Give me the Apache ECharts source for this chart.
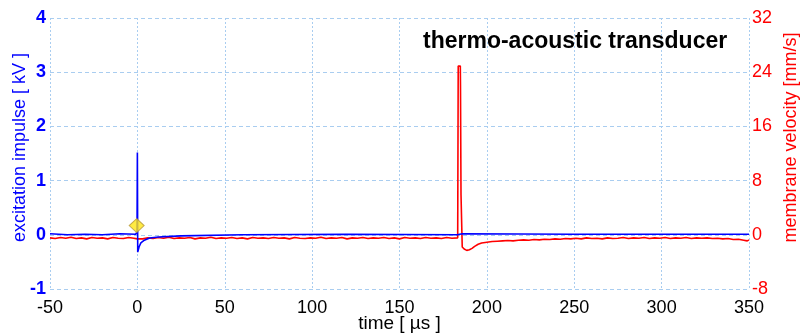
<!DOCTYPE html>
<html>
<head>
<meta charset="utf-8">
<script src="https://cdn.jsdelivr.net/npm/echarts@6/dist/echarts.min.js"></script>
<style>
  html, body { margin: 0; padding: 0; background: #fff; }
  #chart { width: 801px; height: 336px; }
</style>
</head>
<body>
<div id="chart"></div>
<script>
// time [µs] / excitation impulse [kV]
const impulsePoints = [
  [-50, 0.02], [-40, 0.0], [-30, 0.01], [-20, 0.0], [-10, 0.02], [-1, 0.01],
  [-0.2, 0.05], [0, 1.52], [0.2, -0.32], [1, -0.22], [2, -0.15], [4, -0.1],
  [7, -0.06], [12, -0.04], [25, -0.02], [60, 0.0], [120, 0.01], [183, 0.0],
  [186, 0.02], [250, 0.01], [300, 0.01], [350, 0.01]
];
// time [µs] / membrane velocity [mm/s]
const velocityPoints = [
  [-50, -0.45], [-47, -0.55], [-44, -0.4], [-41, -0.5], [-38, -0.35], [-35, -0.55],
  [-32, -0.45], [-29, -0.6], [-26, -0.4], [-23, -0.5], [-20, -0.45], [-17, -0.6],
  [-14, -0.4], [-11, -0.5], [-8, -0.55], [-5, -0.4], [-2, -0.5], [0, -0.6],
  [1, -0.8], [3, -0.6], [6, -0.45], [9, -0.55], [12, -0.4], [15, -0.5],
  [18, -0.35], [21, -0.55], [24, -0.45], [27, -0.5], [30, -0.4], [33, -0.6],
  [36, -0.45], [39, -0.5], [42, -0.35], [45, -0.55], [48, -0.45], [51, -0.5],
  [54, -0.4], [57, -0.55], [60, -0.45], [63, -0.6], [66, -0.4], [69, -0.5],
  [72, -0.45], [75, -0.55], [78, -0.4], [81, -0.5], [84, -0.45], [87, -0.6],
  [90, -0.4], [93, -0.5], [96, -0.55], [99, -0.45], [102, -0.5], [105, -0.35],
  [108, -0.55], [111, -0.45], [114, -0.5], [117, -0.4], [120, -0.6], [123, -0.45],
  [126, -0.5], [129, -0.4], [132, -0.55], [135, -0.45], [138, -0.5], [141, -0.4],
  [144, -0.55], [147, -0.45], [150, -0.6], [153, -0.4], [156, -0.5], [159, -0.45],
  [162, -0.55], [165, -0.4], [168, -0.5], [171, -0.45], [174, -0.55], [177, -0.4],
  [180, -0.5], [183.3, -0.45], [183.6, 24.9], [184.8, 24.9], [184.9, 22.1],
  [185.1, 22.0], [185.2, 5.9], [185.8, 5.9], [185.9, -1.8], [187, -2.1],
  [188.5, -2.3], [190, -2.2], [191.5, -2.0], [193, -1.7], [195, -1.4], [197, -1.2],
  [200, -1.1], [203, -1.0], [206, -0.95], [209, -0.9], [212, -0.85], [215, -0.9],
  [218, -0.8], [221, -0.75], [224, -0.8], [227, -0.7], [230, -0.75], [233, -0.65],
  [236, -0.7], [239, -0.6], [242, -0.65], [245, -0.55], [248, -0.6], [251, -0.5],
  [254, -0.6], [257, -0.45], [260, -0.55], [263, -0.5], [266, -0.6], [269, -0.45],
  [272, -0.55], [275, -0.5], [278, -0.4], [281, -0.55], [284, -0.45], [287, -0.5],
  [290, -0.4], [293, -0.55], [296, -0.45], [299, -0.5], [302, -0.4], [305, -0.55],
  [308, -0.45], [311, -0.5], [314, -0.4], [317, -0.55], [320, -0.45], [323, -0.5],
  [326, -0.45], [329, -0.55], [332, -0.5], [335, -0.6], [338, -0.55], [341, -0.7],
  [344, -0.65], [347, -0.8], [349, -0.9], [350, -0.75]
];
const triggerMark = [[-0.4, 0.17]];

const timeTicks = [-50, 350, 50];
const impulseTicks = [-1, 4, 1];
const velocityTicks = [-8, 32, 8];

const gridColor = '#a9cdf0';
const blue = '#0000ff';
const red = '#ff0000';
const font = 'Liberation Sans, Arial';

const chart = echarts.init(document.getElementById('chart'));
chart.setOption({
  animation: false,
  title: {
    text: 'thermo-acoustic transducer',
    left: 418,
    top: 25,
    textStyle: {fontFamily: font, fontSize: 23, fontWeight: 'bold', color: '#000'}
  },
  grid: {left: 50, right: 52, top: 18, bottom: 47, containLabel: false, outerBoundsMode: 'none'},
  xAxis: {
    type: 'value',
    min: timeTicks[0], max: timeTicks[1], interval: timeTicks[2],
    name: 'time [ µs ]',
    nameLocation: 'middle',
    nameGap: 25,
    nameMoveOverlap: false,
    nameTextStyle: {fontFamily: font, fontSize: 19, color: '#000'},
    axisLine: {show: false},
    axisTick: {show: false},
    axisLabel: {margin: 10, fontFamily: font, fontSize: 18, color: '#000'},
    splitLine: {show: true, lineStyle: {color: gridColor, type: [2, 2], width: 1}}
  },
  yAxis: [
    {
      type: 'value',
      min: impulseTicks[0], max: impulseTicks[1], interval: impulseTicks[2],
      name: 'excitation impulse [ kV ]',
      nameLocation: 'middle',
      nameGap: 21,
      nameMoveOverlap: false,
      nameTextStyle: {fontFamily: font, fontSize: 18, color: blue, padding: [0, 0, 0, 12]},
      axisLine: {show: false},
      axisTick: {show: false},
      axisLabel: {margin: 4, fontFamily: font, fontSize: 18, fontWeight: 'bold', color: blue},
      splitLine: {show: true, lineStyle: {color: gridColor, type: [4, 3], width: 1}}
    },
    {
      type: 'value',
      min: velocityTicks[0], max: velocityTicks[1], interval: velocityTicks[2],
      name: 'membrane velocity [mm/s]',
      nameLocation: 'middle',
      nameGap: 33,
      nameRotate: 90,
      nameMoveOverlap: false,
      nameTextStyle: {fontFamily: font, fontSize: 18, color: red, padding: [0, 0, 0, 32]},
      axisLine: {show: false},
      axisTick: {show: false},
      axisLabel: {margin: 3, fontFamily: font, fontSize: 18, color: red},
      splitLine: {show: false}
    }
  ],
  series: [
    {
      name: 'membrane velocity',
      type: 'line',
      yAxisIndex: 1,
      data: velocityPoints,
      showSymbol: false,
      lineStyle: {color: red, width: 1.6},
      z: 2
    },
    {
      name: 'excitation impulse',
      type: 'line',
      yAxisIndex: 0,
      data: impulsePoints,
      showSymbol: false,
      lineStyle: {color: blue, width: 1.6},
      z: 3
    },
    {
      name: 'trigger',
      type: 'scatter',
      yAxisIndex: 0,
      data: triggerMark,
      symbol: 'diamond',
      symbolSize: [15, 14],
      itemStyle: {color: '#ffe614', borderColor: '#b89a3c', borderWidth: 1},
      z: 4
    }
  ]
});
</script>
</body>
</html>
